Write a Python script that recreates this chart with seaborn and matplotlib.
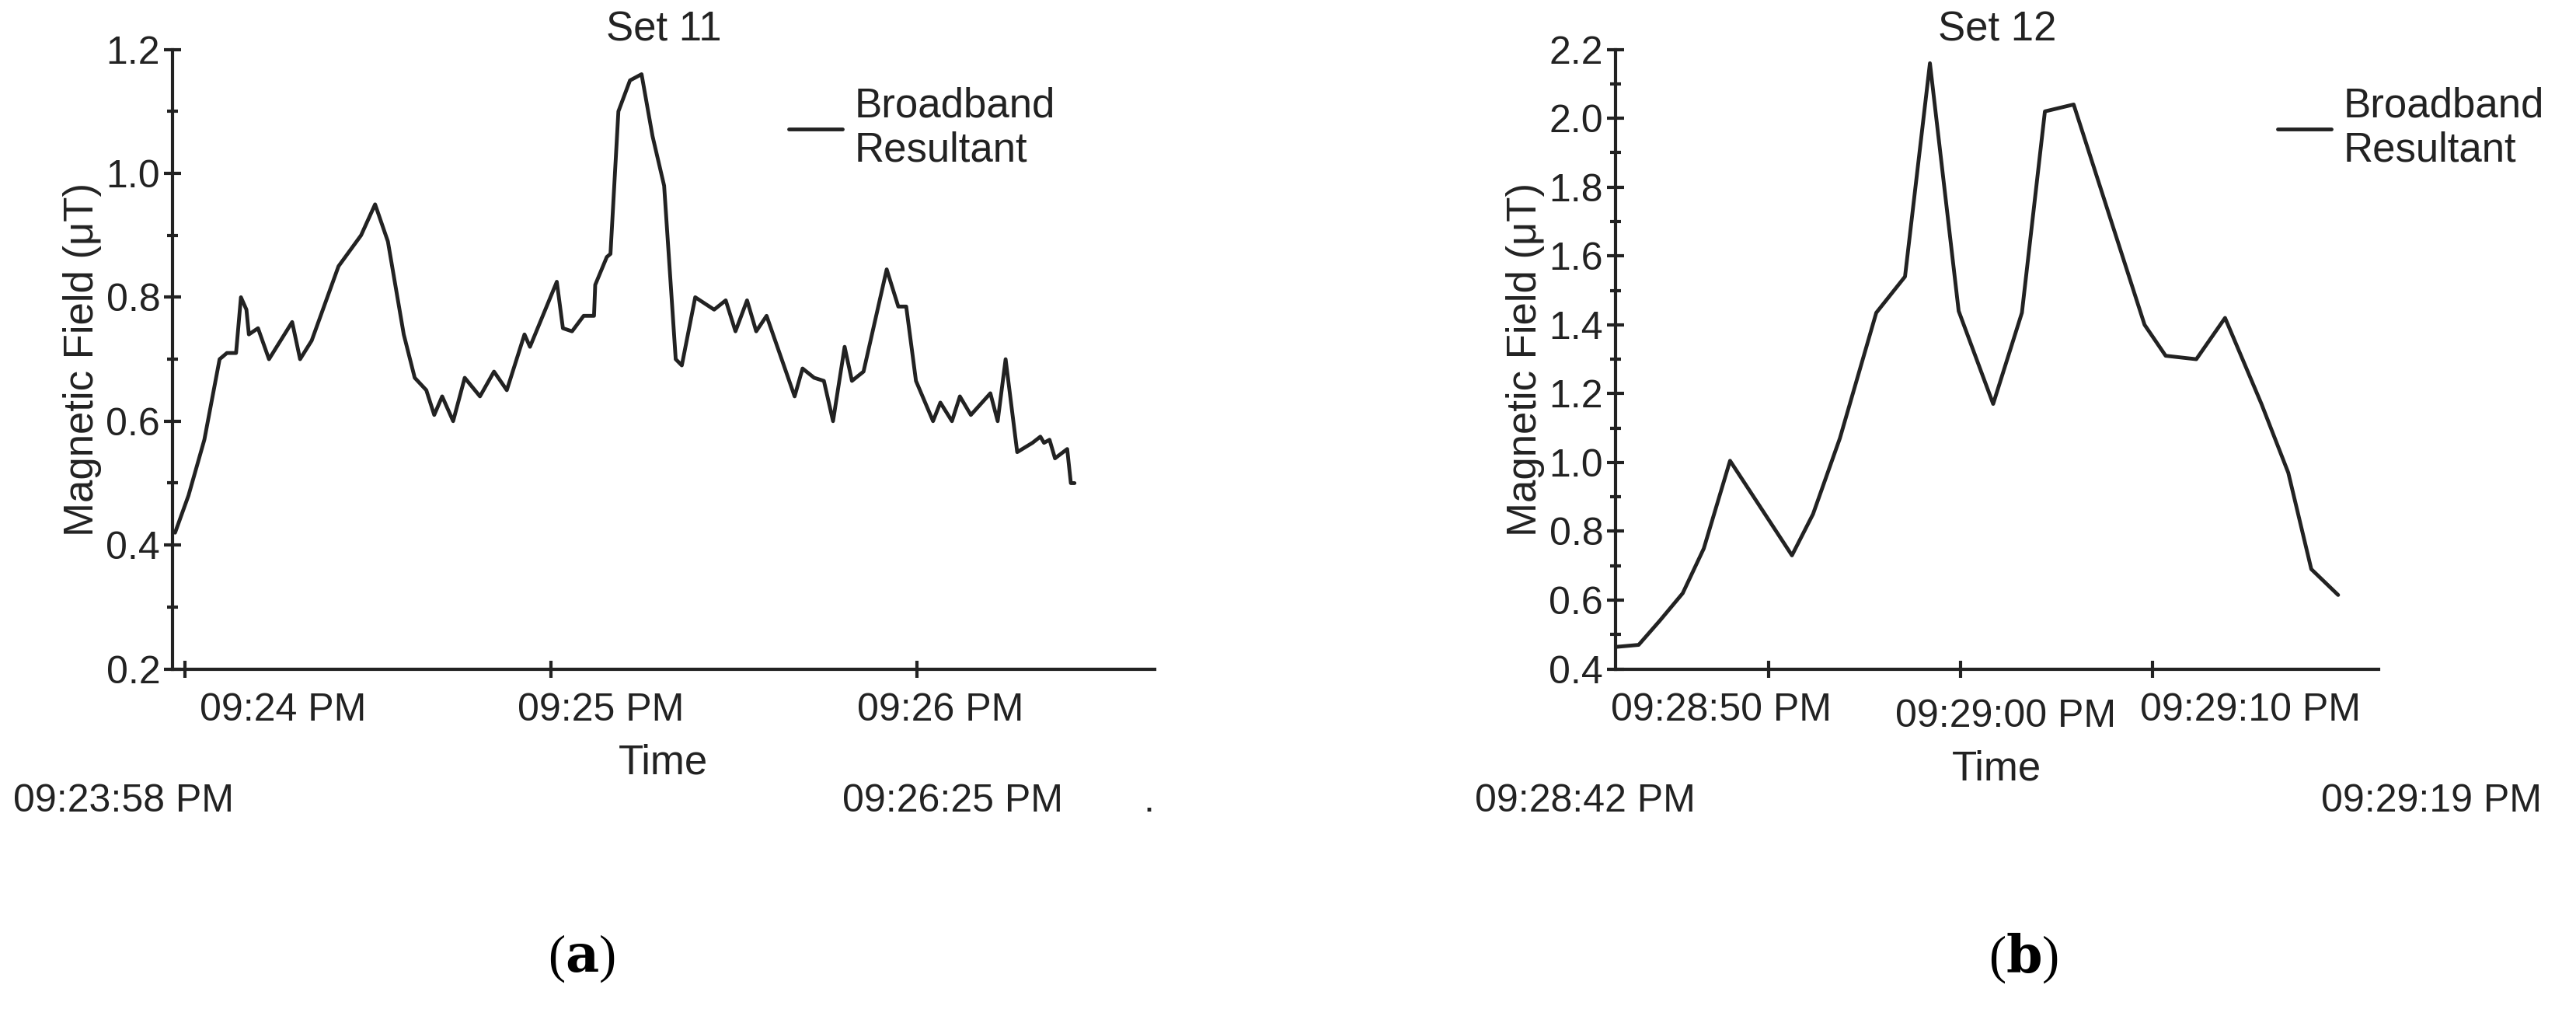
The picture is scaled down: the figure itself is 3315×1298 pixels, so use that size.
import matplotlib
matplotlib.use("Agg")
import matplotlib.pyplot as plt
import matplotlib.transforms as mtrans
import seaborn as sns
from matplotlib.ticker import MultipleLocator

# Set 11: seconds after 09:23:58 PM, field in µT
t11 = [0.4, 2.6, 5.2, 7.7, 8.9, 10.4, 11.2, 12.1, 12.5, 14.0, 15.8, 19.6, 20.9, 22.8, 27.2, 30.9, 33.2,
       35.3, 37.9, 39.7, 41.6, 42.9, 44.2, 46.0, 47.9, 50.4, 52.7, 54.8, 57.7, 58.6, 63.0, 64.0, 65.5,
       67.4, 69.1, 69.3, 71.2, 71.8, 73.1, 75.0, 76.9, 78.7, 80.6, 82.5, 83.5, 85.7, 88.8, 90.7, 92.3,
       94.2, 95.7, 97.4, 102.0, 103.3, 105.2, 106.8, 108.3, 110.2, 111.4, 113.3, 117.1, 119.0, 120.3,
       121.9, 124.7, 125.9, 127.8, 129.1, 130.9, 134.1, 135.3, 136.6, 138.5, 141.0, 142.3, 142.9, 143.8,
       144.7, 146.7, 147.3, 147.9]
b11 = [0.42, 0.48, 0.57, 0.70, 0.71, 0.71, 0.80, 0.78, 0.74, 0.75, 0.70, 0.76, 0.70, 0.73, 0.85, 0.90, 0.95,
       0.89, 0.74, 0.67, 0.65, 0.61, 0.64, 0.60, 0.67, 0.64, 0.68, 0.65, 0.74, 0.72, 0.825, 0.75, 0.745,
       0.77, 0.77, 0.82, 0.865, 0.87, 1.10, 1.15, 1.16, 1.06, 0.98, 0.70, 0.69, 0.80, 0.78, 0.795, 0.745,
       0.795, 0.745, 0.77, 0.64, 0.685, 0.67, 0.665, 0.60, 0.72, 0.665, 0.68, 0.845, 0.785, 0.785,
       0.665, 0.60, 0.63, 0.60, 0.64, 0.61, 0.645, 0.60, 0.70, 0.55, 0.565, 0.575, 0.565, 0.57,
       0.54, 0.555, 0.50, 0.50]
ticks11 = [2, 62, 122]
ticklabels11 = ["09:24 PM", "09:25 PM", "09:26 PM"]

# Set 12: seconds after 09:28:42 PM
t12 = [0, 1.2, 2.3, 3.5, 4.6, 5.97, 9.2, 10.3, 11.7, 13.6, 15.1, 16.4, 17.9, 19.7, 21.2, 22.4, 23.9,
       27.6, 28.7, 30.3, 31.8, 33.7, 35.1, 36.3, 37.7]
b12 = [0.464, 0.47, 0.54, 0.62, 0.75, 1.005, 0.73, 0.85, 1.07, 1.435, 1.54, 2.16, 1.44, 1.17, 1.435, 2.02,
       2.04, 1.40, 1.31, 1.30, 1.42, 1.17, 0.97, 0.69, 0.615]
ticks12 = [8, 18, 28]
ticklabels12 = ["09:28:50 PM", "09:29:00 PM", "09:29:10 PM"]

sns.set_style("white")
plt.rcParams['font.family'] = ['Liberation Sans', 'DejaVu Sans']
col = "#222222"

fig = plt.figure(figsize=(33.16, 12.98), dpi=100)
ax1 = fig.add_axes([0.067, 0.337, 0.381, 0.614])
ax2 = fig.add_axes([0.627, 0.337, 0.296, 0.614])

def style(ax, t, b, ticks, labels, xmax, ylim, title, anchor, offs):
    sns.lineplot(x=t, y=b, ax=ax, color=col, linewidth=3.5, label="Broadband\nResultant")
    ax.set_xlim(0, xmax)
    ax.set_ylim(*ylim)
    ax.set_xticks(ticks)
    ax.set_xticklabels(labels)
    ax.yaxis.set_major_locator(MultipleLocator(0.2))
    ax.yaxis.set_minor_locator(MultipleLocator(0.1))
    ax.yaxis.set_major_formatter(matplotlib.ticker.FormatStrFormatter('%.1f'))
    for s in ["top", "right"]:
        ax.spines[s].set_visible(False)
    for s in ["left", "bottom"]:
        ax.spines[s].set_color(col)
        ax.spines[s].set_linewidth(3)
    ax.tick_params(axis='both', which='both', direction='inout', color=col, width=3,
                   labelsize=36, labelcolor=col, left=True, bottom=True)
    ax.tick_params(axis='x', pad=14)
    ax.tick_params(which='major', length=16)
    ax.tick_params(which='minor', length=10)
    for lab, (dx, dy) in zip(ax.get_xticklabels(), offs):
        lab.set_transform(lab.get_transform() +
                          mtrans.ScaledTranslation(dx / 100, -dy / 100, fig.dpi_scale_trans))
    ax.set_xlabel("Time", fontsize=38, color=col, labelpad=14)
    ax.set_ylabel("Magnetic Field (\u03bcT)", fontsize=38, color=col)
    ax.set_title(title, fontsize=38, color=col, pad=8)
    ax.legend(loc='upper left', bbox_to_anchor=anchor, frameon=False, fontsize=38,
              handlelength=1.3, handletextpad=0.3, labelcolor=col)

style(ax1, t11, b11, ticks11, ticklabels11, 161, (0.2, 1.2), "Set 11", (0.59, 1.0),
      [(126, 0), (64, 0), (31, 0)])
style(ax2, t12, b12, ticks12, ticklabels12, 39.8, (0.4, 2.2), "Set 12", (0.82, 1.0),
      [(-61, 0), (58, 8), (126, 0)])

fs = 36
fig.text(17/3316, 1 - 1031/1298, "09:23:58 PM", fontsize=fs, color=col, va='center')
fig.text(1084/3316, 1 - 1031/1298, "09:26:25 PM", fontsize=fs, color=col, va='center')
fig.text(1471/3316, 1 - 1031/1298, ".", fontsize=fs, color=col, va='center')
fig.text(1898/3316, 1 - 1031/1298, "09:28:42 PM", fontsize=fs, color=col, va='center')
fig.text(2987/3316, 1 - 1031/1298, "09:29:19 PM", fontsize=fs, color=col, va='center')
plt.rcParams['mathtext.fontset'] = 'dejavuserif'
fig.text(748/3316, 1 - 1233/1298, r"($\mathbf{a}$)", fontsize=48, color='black', ha='center', va='center',
         family='Liberation Serif')
fig.text(2604/3316, 1 - 1233/1298, r"($\mathbf{b}$)", fontsize=48, color='black', ha='center', va='center',
         family='Liberation Serif')

fig.savefig("out.png", dpi=100)
